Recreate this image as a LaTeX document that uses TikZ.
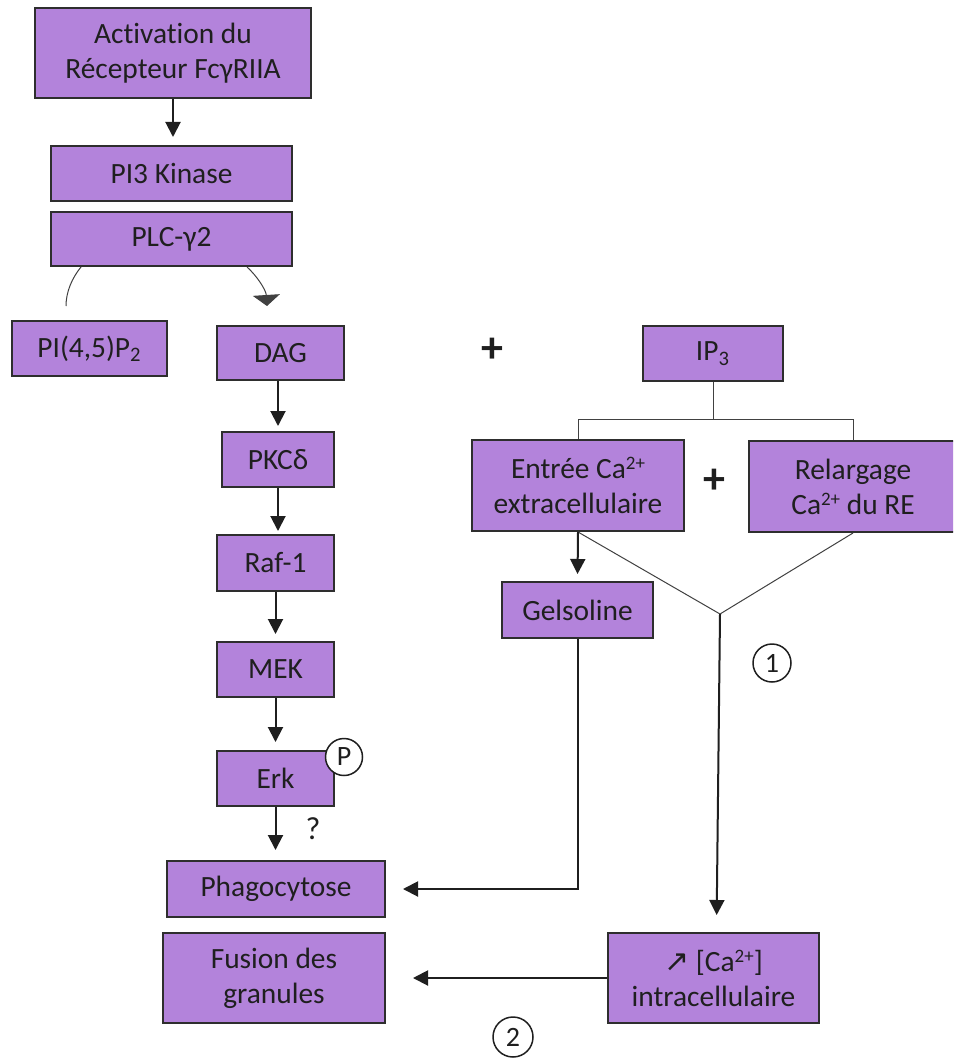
\documentclass[tikz,border=0pt]{standalone}
\usepackage{fontspec}
\setmainfont{Carlito}[Ligatures=NoCommon]
\newfontfamily\dejavu{DejaVu Sans}
\usetikzlibrary{arrows.meta,calc}
\definecolor{boxfill}{HTML}{B383DB}
\definecolor{boxline}{HTML}{2E2E2E}
\definecolor{ink}{HTML}{1F1F1F}
\newcommand\mysup[1]{\raisebox{0.62ex}{\fontsize{9.5}{9.5}\selectfont #1}}
\begin{document}
\begin{tikzpicture}[x=0.5pt,y=-0.5pt,
  box/.style={draw=boxline, line width=1pt, fill=boxfill, inner sep=0pt, align=center, text=ink, font=\fontsize{14.7}{17.5}\selectfont},
  arr/.style={draw=ink, line width=1pt, -{Triangle[width=7.5pt,length=7.5pt]}},
  thinline/.style={draw=ink!85, line width=0.5pt},
  num/.style={circle, draw=ink, line width=0.75pt, fill=white, inner sep=0pt, text=ink, font=\fontsize{14}{14}\selectfont},
  plus/.style={text=ink, inner sep=0pt, font=\fontsize{22}{22}\selectfont\bfseries}
]
\useasboundingbox (0,0) rectangle (953,1059);
\fill[white] (0,0) rectangle (953,1059);
\clip (0,0) rectangle (953,1059);

% boxes
\node[box, minimum width=138pt, minimum height=45pt] (act) at (173,53) {Activation du\\Récepteur FcγRIIA};
\node[box, minimum width=120.5pt, minimum height=27.5pt] (pi3) at (171.5,173.5) {PI3 Kinase};
\node[box, minimum width=120.5pt, minimum height=27pt] (plc) at (171.5,239) {PLC-γ2};
\node[box, minimum width=77.5pt, minimum height=27.5pt] (pip) at (89.5,348.5) {PI(4,5)P\textsubscript{2}};
\node[box, minimum width=63.5pt, minimum height=27pt] (dag) at (280.5,353) {DAG};
\node[box, minimum width=70pt, minimum height=27.5pt] (ip3) at (713,353.5) {IP\textsubscript{3}};
\node[box, minimum width=106pt, minimum height=45.5pt] (entree) at (578,485.5) {Entrée Ca\mysup{2+}\\extracellulaire};
\node[box, minimum width=104pt, minimum height=45.5pt] (relarg) at (853,486.5) {Relargage\\Ca\mysup{2+} du RE};
\node[box, minimum width=56pt, minimum height=27.5pt] (pkc) at (278,459.5) {PKCδ};
\node[box, minimum width=58.5pt, minimum height=28pt] (raf) at (275.5,563) {Raf-1};
\node[box, minimum width=58.5pt, minimum height=27.5pt] (mek) at (275.5,669.5) {MEK};
\node[box, minimum width=58.5pt, minimum height=27.5pt] (erk) at (275.5,778.5) {Erk};
\node[box, minimum width=75.5pt, minimum height=28pt] (gel) at (577.5,610) {Gelsoline};
\node[box, minimum width=109pt, minimum height=28pt] (phago) at (276,889) {Phagocytose};
\node[box, minimum width=111pt, minimum height=45pt] (fusion) at (274,978) {Fusion des\\granules};
\node[box, minimum width=105.5pt, minimum height=45pt] (ca) at (713.5,978) {{\dejavu\fontsize{15}{15}\selectfont ↗} [Ca\mysup{2+}]\\intracellulaire};

% labels
\node[num, minimum size=18.5pt] (p) at (344,757) {P};
\node[num, minimum size=19pt] (c1) at (772,663) {1};
\node[num, minimum size=20pt] (c2) at (513,1037) {2};
\node[plus] (plus1) at (492,350) {+};
\node[plus] (plus2) at (714,481) {+};
\node[text=ink, inner sep=0pt, font=\fontsize{16}{16}\selectfont] (q) at (313,829) {?};

% main column arrows
\draw[arr, shorten >=4pt] (act.south) -- (act.south |- pi3.north);
\draw[arr, shorten >=2.5pt] (pkc.north |- dag.south) -- (pkc.north);
\draw[arr, shorten >=1.5pt] (pkc.south) -- (pkc.south |- raf.north);
\draw[arr, shorten >=3.5pt] (raf.south) -- (raf.south |- mek.north);
\draw[arr, shorten >=4pt] (mek.south) -- (mek.south |- erk.north);
\draw[arr, shorten >=5pt] (erk.south) -- (erk.south |- phago.north);

% PLC split arcs
\coordinate (l0) at ($(plc.south west)+(31,0)$);
\coordinate (l1) at (66,306);
\draw[thinline] (l0) .. controls (72,278) and (66,292) .. (l1);
\coordinate (r0) at ($(plc.south west)+(197,0)$);
\coordinate (r1) at (267,306);
\draw[thinline, -{Triangle[width=13.5pt,length=5.5pt]}] (r0) .. controls (257,276) and (266,290) .. (r1);

% IP3 bracket
\coordinate (bk) at (713,419);
\draw[thinline] (ip3.south) -- (bk);
\draw[thinline] (entree.north) -- (entree.north |- bk) -- (relarg.north |- bk) -- (relarg.north);

% V junction
\coordinate (apex) at (720,614);
\draw[thinline] (entree.south) -- (apex) -- (relarg.south);
\draw[arr, shorten >=8.5pt] (apex) -- ($(ca.north)+(3,0)$);

% calcium branch
\draw[arr, shorten >=3.5pt] (entree.south) -- (gel.north);
\draw[arr, shorten >=8.5pt] (gel.south) |- (phago.east);
\draw[arr, shorten >=13.5pt] (ca.west) -- (fusion.east);
\end{tikzpicture}
\end{document}
